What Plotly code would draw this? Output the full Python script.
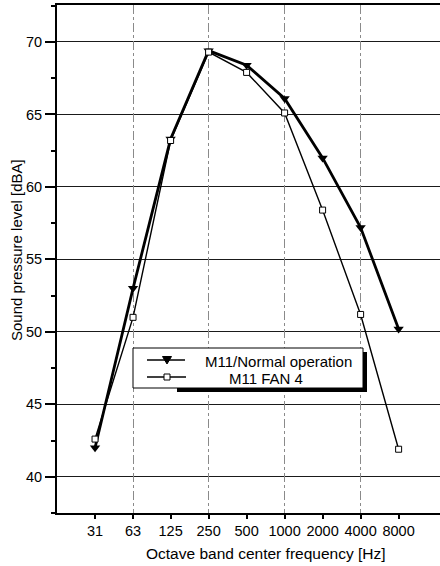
import plotly.graph_objects as go

# ---- data ----
freq = [31.5, 63, 125, 250, 500, 1000, 2000, 4000, 8000]
tick_labels = ["31", "63", "125", "250", "500", "1000", "2000", "4000", "8000"]
normal_op = [42.0, 53.0, 63.3, 69.4, 68.4, 66.1, 62.0, 57.2, 50.2]
fan4 = [42.6, 51.0, 63.2, 69.3, 67.9, 65.1, 58.4, 51.2, 41.9]
grid_freq = [63, 250, 1000, 4000]
y_ticks = [40, 45, 50, 55, 60, 65, 70]
series_names = ["M11/Normal operation", "M11 FAN 4"]

FONT = "Liberation Sans, Arial, sans-serif"

# plot area geometry (pixels)
W, H = 440, 566
L, R, T, B = 57, 0, 5, 53
PW = W - L - R
PH = H - T - B


def px_x(p):
    return (p - L) / PW


def px_y(p):
    return (H - B - p) / PH


fig = go.Figure()

fig.add_trace(go.Scatter(
    x=freq, y=normal_op, name=series_names[0], mode="lines+markers",
    line=dict(color="black", width=2.8),
    marker=dict(symbol="triangle-down", size=9, color="black"),
    showlegend=False,
))
fig.add_trace(go.Scatter(
    x=freq, y=fan4, name=series_names[1], mode="lines+markers",
    line=dict(color="black", width=1.4),
    marker=dict(symbol="square", size=6, color="white",
                line=dict(color="black", width=1)),
    showlegend=False,
))
# invisible trace to activate the vertical-grid axis
fig.add_trace(go.Scatter(x=[freq[0]], y=[normal_op[0]], xaxis="x2",
                         mode="markers", marker=dict(opacity=0),
                         showlegend=False, hoverinfo="skip"))

xr = [1.197, 4.231]
fig.update_layout(
    width=W, height=H,
    margin=dict(l=L, r=R, t=T, b=B),
    paper_bgcolor="white", plot_bgcolor="white",
    font=dict(family=FONT, size=14, color="black"),
    showlegend=False,
    xaxis=dict(
        type="log", range=xr, tickvals=freq, ticktext=tick_labels,
        showgrid=False, zeroline=False,
        showline=True, linecolor="black", linewidth=2, mirror=True,
        ticks="outside", ticklen=4, tickwidth=1.5, tickcolor="black",
        tickfont=dict(size=14.5, family=FONT),
    ),
    xaxis2=dict(
        type="log", range=xr, overlaying="x", tickvals=grid_freq,
        showticklabels=False, showgrid=True, gridcolor="#8a8a8a",
        gridwidth=1, griddash="dashdot", showline=False, ticks="",
        side="bottom",
    ),
    yaxis=dict(
        range=[37.5, 72.55], tickvals=y_ticks,
        showgrid=True, gridcolor="#1a1a1a", gridwidth=1.3,
        zeroline=False, showline=True, linecolor="black", linewidth=2,
        ticks="outside", ticklen=10, tickwidth=1.5, tickcolor="black",
        minor=dict(dtick=2.5, tick0=37.5, ticks="outside", ticklen=4,
                   tickcolor="black", showgrid=False),
        tickfont=dict(size=14.5, family=FONT),
    ),
)

# ---- hand-drawn legend with drop shadow ----
def rect(x0, y0, x1, y1, **kw):
    fig.add_shape(type="rect", xref="paper", yref="paper",
                  x0=px_x(x0), x1=px_x(x1), y0=px_y(y1), y1=px_y(y0),
                  layer="above", **kw)


def seg(x0, x1, y, width):
    fig.add_shape(type="line", xref="paper", yref="paper",
                  x0=px_x(x0), x1=px_x(x1), y0=px_y(y), y1=px_y(y),
                  line=dict(color="black", width=width), layer="above")


rect(177, 352, 367, 392, fillcolor="black", line=dict(width=0))
rect(133, 348, 363, 388, fillcolor="white",
     line=dict(color="black", width=1))

seg(147, 185, 360, 1.6)
cx, cy = 167, 360
tri = "M {:.5f},{:.5f} L {:.5f},{:.5f} L {:.5f},{:.5f} Z".format(
    px_x(cx - 4.5), px_y(cy - 3.5), px_x(cx + 4.5), px_y(cy - 3.5),
    px_x(cx), px_y(cy + 4))
fig.add_shape(type="path", xref="paper", yref="paper", path=tri,
              fillcolor="black", line=dict(color="black", width=1),
              layer="above")

seg(147, 186, 377, 1.3)
rect(164, 374, 170, 380, fillcolor="white",
     line=dict(color="black", width=1))

fig.add_annotation(text=series_names[0], xref="paper", yref="paper",
                   x=px_x(203), y=px_y(361), xanchor="left",
                   yanchor="middle", showarrow=False,
                   font=dict(size=15, family=FONT))
fig.add_annotation(text=series_names[1], xref="paper", yref="paper",
                   x=px_x(266), y=px_y(378), xanchor="center",
                   yanchor="middle", showarrow=False,
                   font=dict(size=15, family=FONT))

# axis titles
fig.add_annotation(text="Octave band center frequency [Hz]", xref="paper",
                   yref="paper", x=px_x(266), y=px_y(553), showarrow=False,
                   font=dict(size=15.5, family=FONT), xanchor="center",
                   yanchor="middle")
fig.add_annotation(text="Sound pressure level [dBA]", xref="paper",
                   yref="paper", x=px_x(16), y=px_y(250), showarrow=False,
                   textangle=-90, font=dict(size=15, family=FONT),
                   xanchor="center", yanchor="middle")

fig.write_html("out.html")
